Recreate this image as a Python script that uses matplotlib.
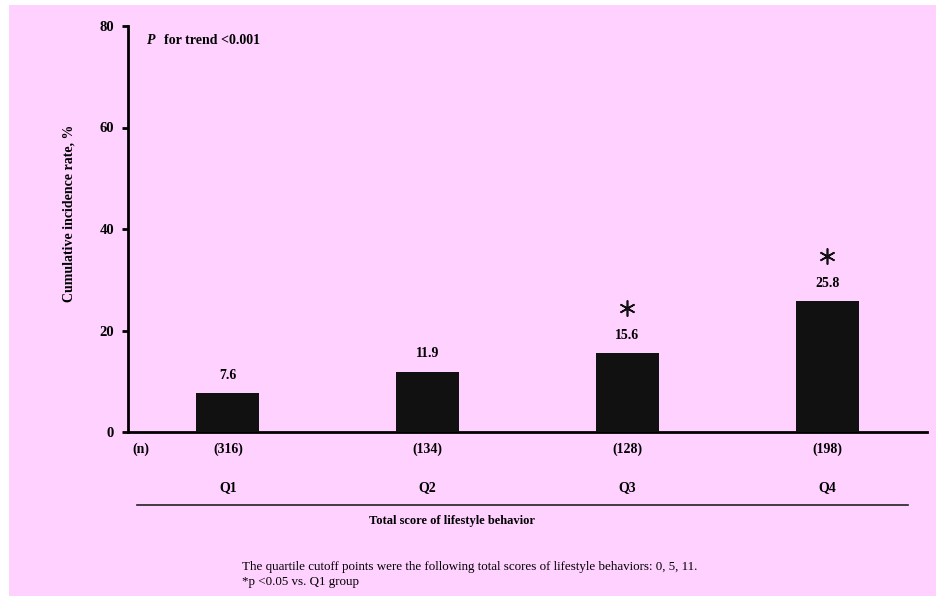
import matplotlib.pyplot as plt
from matplotlib.patches import Rectangle

plt.rcParams['font.family'] = ['Liberation Serif', 'DejaVu Serif']

# cumulative incidence by quartile of lifestyle score
groups = ['Q1', 'Q2', 'Q3', 'Q4']
rates = [7.6, 11.9, 15.6, 25.8]
counts = [316, 134, 128, 198]
signif = [False, False, True, True]
yticks = [0, 20, 40, 60, 80]

pink = '#ffd1ff'
bar_color = '#111111'

fig = plt.figure(figsize=(9.36, 5.96), dpi=100)
fig.patches.append(Rectangle((9 / 936, 0), 1, 1 - 5 / 596, transform=fig.transFigure,
                             facecolor=pink, edgecolor='none', zorder=-10))

ax = fig.add_axes([128 / 936, 1 - 432 / 596, 799 / 936, 406 / 596])
ax.patch.set_visible(False)

xpos = [i + 0.5 for i in range(len(groups))]
ax.bar(xpos, rates, width=0.315, color=bar_color, zorder=3)

ax.set_xlim(0, 4)
ax.set_ylim(0, 80)
ax.set_yticks(yticks)
ax.set_yticklabels([str(v) for v in yticks], fontsize=10.5, fontweight='bold')
ax.set_xticks([])
for s in ['top', 'right']:
    ax.spines[s].set_visible(False)
for s in ['left', 'bottom']:
    ax.spines[s].set_linewidth(2)
ax.tick_params(axis='y', length=4, width=2, pad=6)

ax.set_ylabel('Cumulative incidence rate, %', fontsize=10, fontweight='bold')
ax.yaxis.set_label_coords(-0.066, 0.539)

# value labels and significance marks
for x, r, s in zip(xpos, rates, signif):
    ax.text(x, r + 3.5, f'{r:.1f}', ha='center', va='center', fontsize=10, fontweight='bold')
    if s:
        ax.plot(x, r + 8.9, marker=(6, 2, 0), ms=11.5, mew=1.2, color='#111111', clip_on=False)

ax.text(0.024, 0.964, 'P', transform=ax.transAxes, ha='left', va='center',
        fontsize=10, fontweight='bold', fontstyle='italic')
ax.text(0.045, 0.964, 'for trend <0.001', transform=ax.transAxes, ha='left', va='center',
        fontsize=10, fontweight='bold')

# rows under the axis: group sizes, quartile names, bracket line and title
tr = ax.get_xaxis_transform()
ax.text(0.065, -0.042, '(n)', transform=tr, ha='center', va='center', fontsize=10, fontweight='bold')
for x, n, g in zip(xpos, counts, groups):
    ax.text(x, -0.042, f'({n})', transform=tr, ha='center', va='center', fontsize=10, fontweight='bold')
    ax.text(x, -0.138, g, transform=tr, ha='center', va='center', fontsize=10, fontweight='bold')
ax.plot([0.045, 3.905], [-0.18, -0.18], transform=tr, color='#222222', lw=1.2, clip_on=False)
ax.text(1.62, -0.22, 'Total score of lifestyle behavior', transform=tr, ha='center', va='center',
        fontsize=9, fontweight='bold')

fig.text(242 / 936, 1 - 567 / 596,
         'The quartile cutoff points were the following total scores of lifestyle behaviors: 0, 5, 11.',
         ha='left', va='center', fontsize=9.4)
fig.text(242 / 936, 1 - 582 / 596, '*p <0.05 vs. Q1 group', ha='left', va='center', fontsize=9.4)

fig.savefig('out.png', dpi=100)
